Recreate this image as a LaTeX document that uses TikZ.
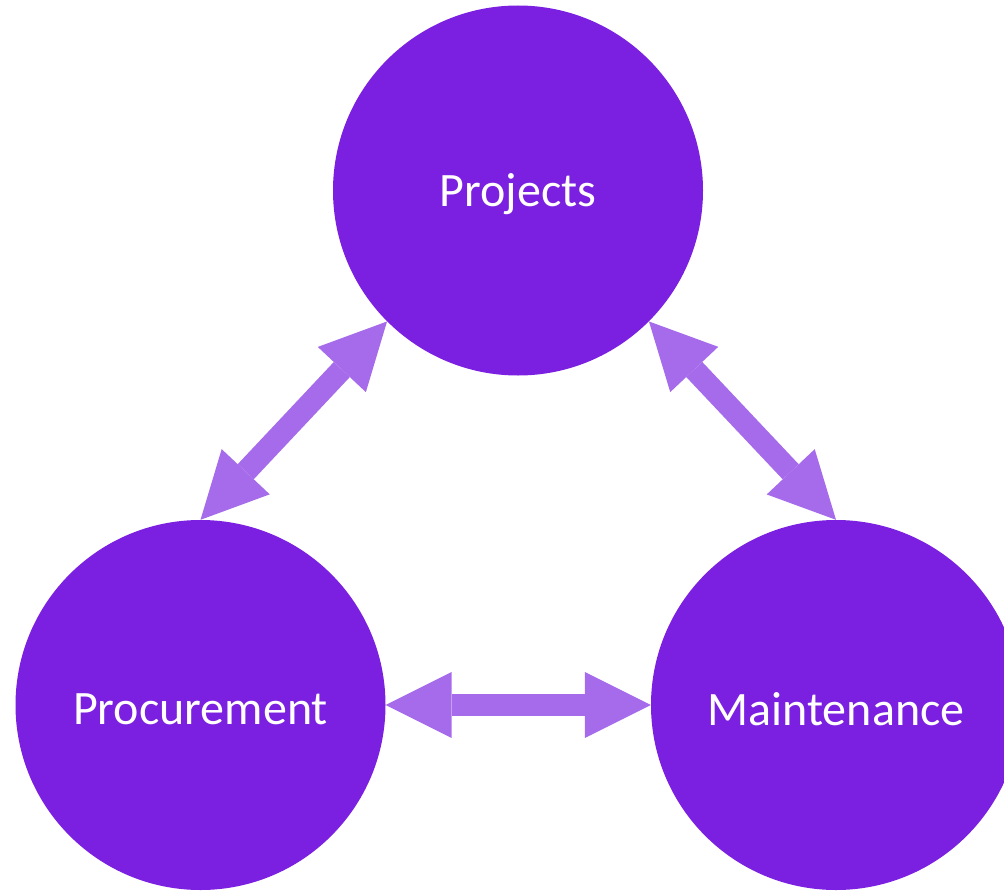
\documentclass[tikz,border=0pt]{standalone}
\usepackage{fontspec}
\setmainfont{Carlito}
\usetikzlibrary{arrows.meta}
\definecolor{circ}{HTML}{7B1FE0}
\definecolor{arr}{HTML}{A66BEB}
\newcommand{\bubtext}[1]{\raisebox{-4pt}[\height][\depth]{#1}}
\tikzset{
  bubble/.style={circle, fill=circ, draw=none, minimum size=370pt, inner sep=0pt, text=white, font=\fontsize{48}{56}\selectfont},
  dbl/.style={arr, line width=22pt, {Triangle[length=66pt,width=66pt,line width=0pt]}-{Triangle[length=66pt,width=66pt,line width=0pt]}}
}
\begin{document}
\begin{tikzpicture}[x=1pt,y=-1pt]
\useasboundingbox (0,0) rectangle (1004,891);
\begin{scope}
\clip (0,0) rectangle (1004,891);
\node[bubble] (proj) at (518,190.5) {\bubtext{Projects}};
\node[bubble] (proc) at (200.5,705) {\bubtext{Procurement}};
\node[bubble] (maint) at (836,705) {\bubtext{Maintenance}};
\draw[dbl] (proc.north) -- (proj.225);
\draw[dbl] (proj.315) -- (maint.north);
\draw[dbl] (proc.east) -- (maint.west);
\end{scope}
\end{tikzpicture}
\end{document}
